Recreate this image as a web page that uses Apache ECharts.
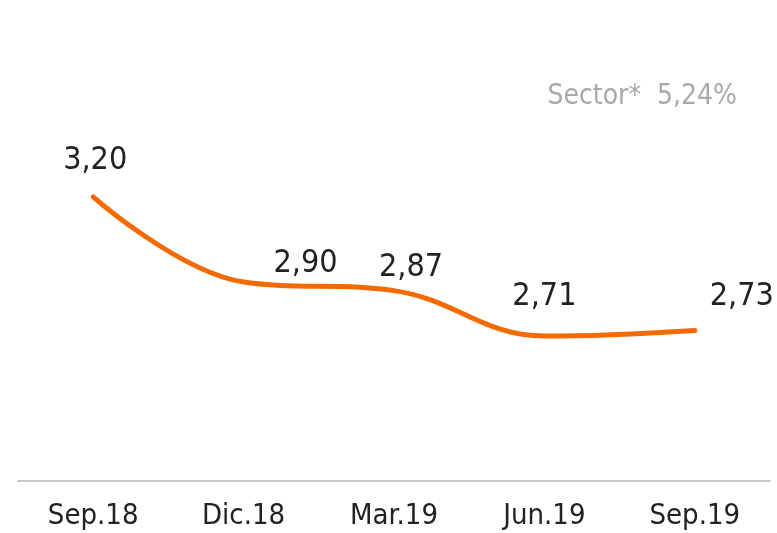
<!DOCTYPE html>
<html lang="es">
  <head>
    <meta charset="UTF-8" />
    <title>Ratio</title>
    <style>
      html, body { margin: 0; padding: 0; background: #fff; }
      #main { width: 777px; height: 533px; }
    </style>
  </head>
  <body>
    <div id="main"></div>
    <script src="https://cdn.jsdelivr.net/npm/echarts@6/dist/echarts.min.js"></script>
    <script>
      const myChart = echarts.init(document.getElementById('main'))
      // categorías y valores
      var xData = ['Sep.18', 'Dic.18', 'Mar.19', 'Jun.19', 'Sep.19']
      var values = [3.2, 2.9, 2.87, 2.71, 2.73]
      var sectorLabel = 'Sector*  5,24%'

      var fontFam = '"DejaVu Sans Condensed", "DejaVu Sans", sans-serif'
      // desplazamiento de cada etiqueta [x, y]
      var labelShift = [[2, -15], [62, 3], [17, -1], [0, -18], [47, -12]]

      var seriesData = values.map(function (v, i) {
        return {
          value: v,
          label: { offset: labelShift[i] }
        }
      })

      var option = {
        backgroundColor: '#fff',
        animation: false,
        grid: { left: 18, right: 7, top: 140, bottom: 52 },
        graphic: [
          {
            type: 'text',
            right: 40,
            top: 83,
            style: {
              text: sectorLabel,
              fill: '#a9a9a9',
              font: '28px ' + fontFam
            }
          }
        ],
        xAxis: {
          type: 'category',
          data: xData,
          axisLine: { lineStyle: { color: '#c8c8c8', width: 2 } },
          axisTick: { show: false },
          axisLabel: {
            color: '#222',
            fontSize: 29,
            fontFamily: fontFam,
            margin: 21
          }
        },
        yAxis: {
          type: 'value',
          min: 2.2,
          max: 3.4,
          show: false,
          splitLine: { show: false }
        },
        series: [
          {
            type: 'line',
            data: seriesData,
            smooth: 0.4,
            symbol: 'circle',
            symbolSize: 1,
            itemStyle: { color: 'rgba(0,0,0,0)' },
            lineStyle: { color: '#f36b00', width: 5, cap: 'round' },
            label: {
              show: true,
              position: 'top',
              color: '#222',
              fontSize: 32,
              fontFamily: fontFam,
              formatter: function (p) {
                return p.value.toFixed(2).replace('.', ',')
              }
            }
          }
        ]
      }

      myChart.setOption(option)
    </script>
  </body>
</html>
